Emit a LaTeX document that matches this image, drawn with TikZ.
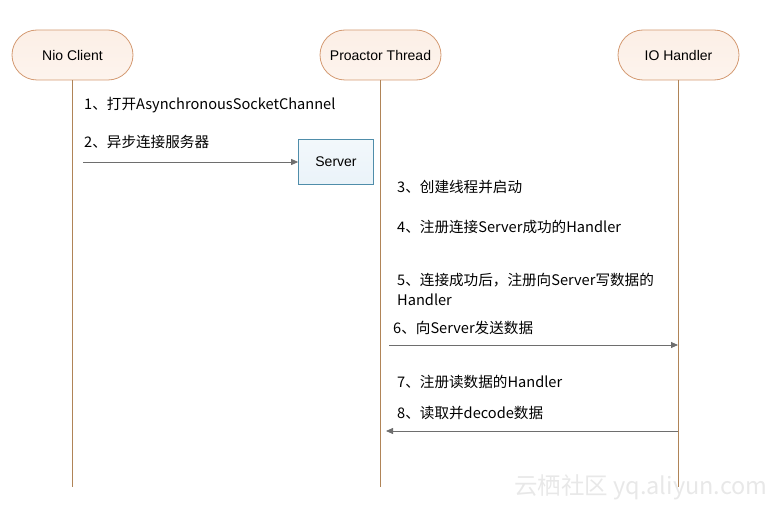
\documentclass[tikz,border=0pt]{standalone}
\usepackage{fontspec}
\setmainfont{Liberation Sans}
\newfontfamily\cjk{Noto Sans CJK SC}
\usetikzlibrary{arrows.meta}
\definecolor{actorfill}{HTML}{FCEFE6}
\definecolor{actordraw}{HTML}{D49A72}
\definecolor{lifeline}{HTML}{B08457}
\definecolor{srvfill}{HTML}{EAF3F9}
\definecolor{srvdraw}{HTML}{4F8DAA}
\definecolor{msg}{HTML}{6E6E6E}
\tikzset{
  actor/.style={draw=actordraw, line width=0.8pt, top color=actorfill, bottom color=actorfill!70!white, rounded corners=25pt, minimum width=121pt, minimum height=50pt, font=\fontsize{14}{16}\selectfont, inner sep=0pt},
  life/.style={draw=lifeline, line width=0.8pt},
  srv/.style={draw=srvdraw, line width=0.7pt, top color=srvfill!60!white, bottom color=srvfill, minimum width=75pt, minimum height=45pt, font=\fontsize{14}{16}\selectfont, inner sep=0pt},
  msgarrow/.style={draw=msg, line width=0.8pt, -{Triangle[length=7pt,width=6pt]}},
  lbl/.style={anchor=west, inner sep=0pt, font=\cjk\fontsize{14.6}{20}\selectfont, align=left}
}
\begin{document}
\begin{tikzpicture}[x=1pt,y=-1pt]
\useasboundingbox (0,0) rectangle (782,508);
\node[actor] (client) at (72.5,55) {Nio Client};
\node[actor] (proactor) at (380.5,55) {Proactor Thread};
\node[actor] (io) at (678.5,55) {IO Handler};
\coordinate (cend) at (72.5,487);
\coordinate (pend) at (380.5,487);
\coordinate (iend) at (678.5,487);
\draw[life] (client.south) -- (cend);
\draw[life] (proactor.south) -- (pend);
\draw[life] (io.south) -- (iend);
\node[srv] (server) at (336,162) {Server};
\node[lbl] (l1) at (84,105) {1、打开AsynchronousSocketChannel};
\node[lbl] (l2) at (84,142) {2、异步连接服务器};
\coordinate (a2s) at (83,162);
\draw[msgarrow] (a2s) -- (server.west);
\node[lbl] (l3) at (397,187) {3、创建线程并启动};
\node[lbl] (l4) at (397,227) {4、注册连接Server成功的Handler};
\node[lbl, anchor=north west] (l5) at (397,273) {5、连接成功后，注册向Server写数据的\\Handler};
\node[lbl] (l6) at (393,328) {6、向Server发送数据};
\coordinate (a6s) at (389,345);
\coordinate (a6e) at (678,345);
\draw[msgarrow] (a6s) -- (a6e);
\node[lbl] (l7) at (397,382) {7、注册读数据的Handler};
\node[lbl] (l8) at (397,413) {8、读取并decode数据};
\coordinate (a8s) at (678,431);
\coordinate (a8e) at (386,431);
\draw[msgarrow] (a8s) -- (a8e);
\node[anchor=west, inner sep=0pt, text=black!9, font=\cjk\fontsize{23.5}{25}\selectfont] (wm) at (514,487) {云栖社区 yq.aliyun.com};
\end{tikzpicture}
\end{document}
